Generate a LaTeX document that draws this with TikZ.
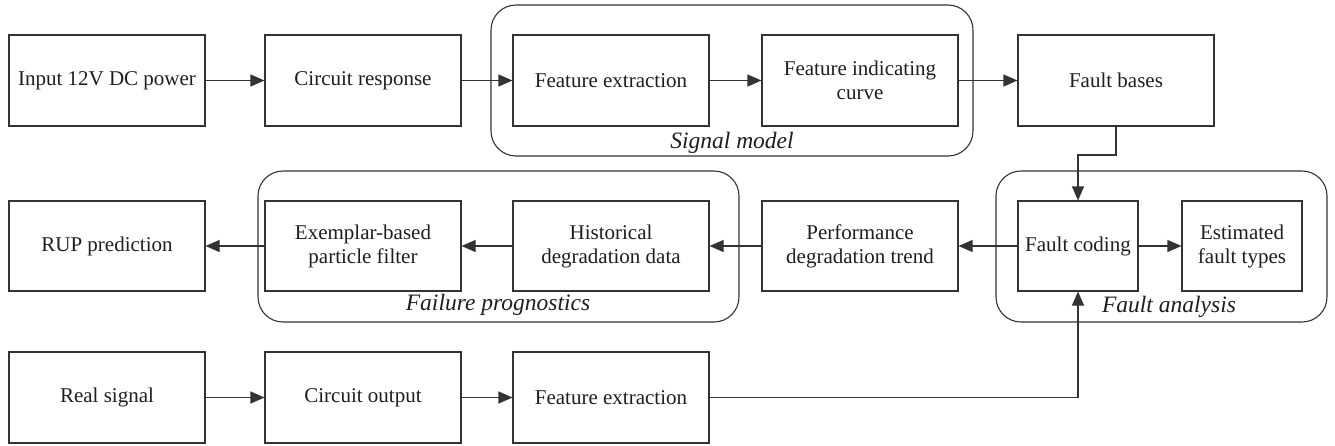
\documentclass[tikz,border=0pt]{standalone}
\usepackage{fontspec}
\setmainfont{Liberation Serif}
\usetikzlibrary{arrows.meta}
\definecolor{ln}{HTML}{333333}
\definecolor{tx}{HTML}{1E1E1E}
\tikzset{
  blk/.style={draw=ln, line width=1.1pt, minimum width=196pt, minimum height=91pt,
    inner sep=0pt, align=center, text=tx, font=\fontsize{21}{24}\selectfont},
  sblk/.style={blk, minimum width=120pt, minimum height=90pt},
  grp/.style={draw=ln, line width=1.1pt, rounded corners=25pt},
  glabel/.style={text=tx, font=\fontsize{23.5}{26}\selectfont\itshape, inner sep=0pt},
  arr/.style={draw=ln, line width=1.1pt, -{Triangle[length=14pt,width=12pt]}},
}
\begin{document}
\begin{tikzpicture}[x=1pt,y=-1pt]
\useasboundingbox (0,0) rectangle (1335,445);
% containers
\draw[grp] (491,5) rectangle (973,156);
\draw[grp] (258,171) rectangle (739,322);
\draw[grp] (996,171) rectangle (1327,322);
\node[glabel] (lsm) at (732,143) {Signal model};
\node[glabel] (lfp) at (498,305) {Failure prognostics};
\node[glabel] (lfa) at (1169,307) {Fault analysis};
% row 1
\node[blk] (inp) at (107,80.5) {Input 12V DC power};
\node[blk] (cr)  at (363,80.5) {Circuit response};
\node[blk] (fe1) at (611,80.5) {Feature extraction};
\node[blk] (fic) at (860,80.5) {Feature indicating\\curve};
\node[blk] (fb)  at (1116,80.5) {Fault bases};
% row 2
\node[blk, minimum height=90pt] (rup) at (107,246) {RUP prediction};
\node[blk, minimum height=90pt] (epf) at (363,246) {Exemplar-based\\particle filter};
\node[blk, minimum height=90pt] (hdd) at (611,246) {Historical\\degradation data};
\node[blk, minimum height=90pt] (pdt) at (860,246) {Performance\\degradation trend};
\node[sblk] (fc)  at (1078,246) {Fault coding};
\node[sblk] (eft) at (1242,246) {Estimated\\fault types};
% row 3
\node[blk] (rs)  at (107,397.5) {Real signal};
\node[blk] (co)  at (363,397.5) {Circuit output};
\node[blk] (fe2) at (611,397.5) {Feature extraction};
\coordinate (k) at (0,155);
% connectors
\draw[arr] (inp) -- (cr);
\draw[arr] (cr) -- (fe1);
\draw[arr] (fe1) -- (fic);
\draw[arr] (fic) -- (fb);
\draw[arr] (fb.south) -- (fb.south |- k) -| (fc.north);
\draw[arr] (fc) -- (eft);
\draw[arr] (fc) -- (pdt);
\draw[arr] (pdt) -- (hdd);
\draw[arr] (hdd) -- (epf);
\draw[arr] (epf) -- (rup);
\draw[arr] (rs) -- (co);
\draw[arr] (co) -- (fe2);
\draw[arr] (fe2.east) -| (fc.south);
\end{tikzpicture}
\end{document}
